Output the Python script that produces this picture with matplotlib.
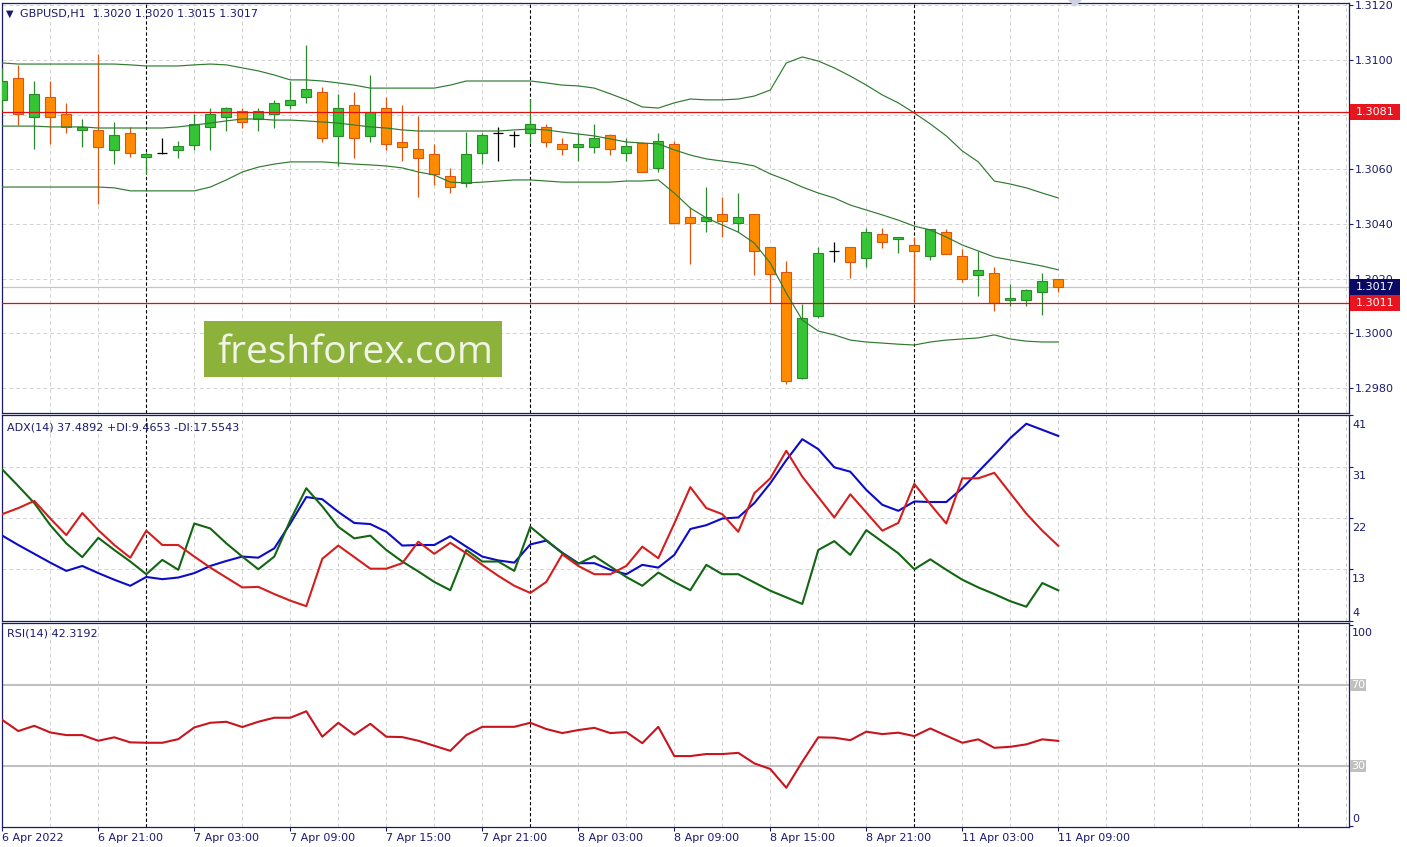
import numpy as np
import matplotlib
matplotlib.use('Agg')
import matplotlib.pyplot as plt
from matplotlib.patches import Rectangle, Polygon
from matplotlib.transforms import blended_transform_factory

W, H = 1407, 847

# ---------------- data ----------------
title = 'GBPUSD,H1  1.3020 1.3020 1.3015 1.3017'
adx_title = 'ADX(14) 37.4892 +DI:9.4653 -DI:17.5543'
rsi_title = 'RSI(14) 42.3192'

time_labels = ['6 Apr 2022', '6 Apr 21:00', '7 Apr 03:00', '7 Apr 09:00', '7 Apr 15:00',
               '7 Apr 21:00', '8 Apr 03:00', '8 Apr 09:00', '8 Apr 15:00', '8 Apr 21:00',
               '11 Apr 03:00', '11 Apr 09:00']
time_label_bars = [0, 6, 12, 18, 24, 30, 36, 42, 48, 54, 60, 66]
separator_bars = [9, 33, 57, 81]

opens = [1.30854, 1.30933, 1.30792, 1.30863, 1.30801, 1.30743, 1.30743, 1.30672, 1.30732, 1.30644,
         1.30658, 1.30672, 1.30690, 1.30754, 1.30792, 1.30813, 1.30784, 1.30801, 1.30834, 1.30863,
         1.30882, 1.30723, 1.30835, 1.30723, 1.30823, 1.30701, 1.30673, 1.30655, 1.30575, 1.30549,
         1.30661, 1.30732, 1.30725, 1.30732, 1.30754, 1.30691, 1.30683, 1.30683, 1.30725, 1.30661,
         1.30695, 1.30604, 1.30693, 1.30424, 1.30412, 1.30435, 1.30402, 1.30435, 1.30315, 1.30223,
         1.29835, 1.30064, 1.30301, 1.30315, 1.30274, 1.30362, 1.30344, 1.30323, 1.30281, 1.30372,
         1.30283, 1.30212, 1.30219, 1.30120, 1.30120, 1.30151, 1.30200]
highs = [1.30971, 1.30982, 1.30923, 1.30923, 1.30843, 1.30784, 1.31022, 1.30772, 1.30754, 1.30664,
         1.30716, 1.30703, 1.30801, 1.30824, 1.30827, 1.30825, 1.30825, 1.30854, 1.30924, 1.31055,
         1.30902, 1.30874, 1.30882, 1.30945, 1.30863, 1.30835, 1.30795, 1.30693, 1.30603, 1.30735,
         1.30734, 1.30756, 1.30740, 1.30856, 1.30765, 1.30713, 1.30732, 1.30765, 1.30729, 1.30713,
         1.30698, 1.30734, 1.30703, 1.30463, 1.30536, 1.30499, 1.30514, 1.30436, 1.30316, 1.30264,
         1.30106, 1.30315, 1.30333, 1.30316, 1.30384, 1.30384, 1.30354, 1.30351, 1.30383, 1.30382,
         1.30310, 1.30302, 1.30241, 1.30179, 1.30162, 1.30219, 1.30200]
lows = [1.30817, 1.30762, 1.30674, 1.30693, 1.30733, 1.30682, 1.30473, 1.30619, 1.30644, 1.30582,
        1.30656, 1.30642, 1.30672, 1.30672, 1.30741, 1.30752, 1.30741, 1.30752, 1.30822, 1.30841,
        1.30701, 1.30613, 1.30642, 1.30701, 1.30671, 1.30630, 1.30500, 1.30542, 1.30512, 1.30536,
        1.30619, 1.30630, 1.30683, 1.30695, 1.30683, 1.30652, 1.30630, 1.30661, 1.30652, 1.30630,
        1.30590, 1.30591, 1.30400, 1.30252, 1.30372, 1.30353, 1.30372, 1.30213, 1.30112, 1.29813,
        1.29834, 1.30055, 1.30262, 1.30203, 1.30244, 1.30313, 1.30293, 1.30117, 1.30269, 1.30289,
        1.30188, 1.30138, 1.30080, 1.30101, 1.30101, 1.30068, 1.30150]
closes = [1.30923, 1.30801, 1.30874, 1.30792, 1.30754, 1.30756, 1.30683, 1.30724, 1.30661, 1.30656,
          1.30658, 1.30685, 1.30766, 1.30801, 1.30824, 1.30772, 1.30813, 1.30841, 1.30854, 1.30894,
          1.30713, 1.30823, 1.30713, 1.30811, 1.30691, 1.30683, 1.30642, 1.30583, 1.30534, 1.30655,
          1.30725, 1.30732, 1.30725, 1.30765, 1.30701, 1.30673, 1.30691, 1.30713, 1.30673, 1.30685,
          1.30591, 1.30704, 1.30402, 1.30402, 1.30424, 1.30412, 1.30424, 1.30302, 1.30216, 1.29825,
          1.30055, 1.30293, 1.30301, 1.30262, 1.30372, 1.30333, 1.30353, 1.30300, 1.30382, 1.30290,
          1.30200, 1.30231, 1.30109, 1.30130, 1.30160, 1.30191, 1.30170]

bb_upper = [1.30989, 1.30985, 1.30985, 1.30985, 1.30985, 1.30985, 1.30985, 1.30985, 1.30982, 1.30978,
            1.30978, 1.30978, 1.30982, 1.30985, 1.30982, 1.30971, 1.30960, 1.30945, 1.30927, 1.30927,
            1.30923, 1.30916, 1.30908, 1.30897, 1.30897, 1.30897, 1.30897, 1.30897, 1.30908, 1.30923,
            1.30923, 1.30923, 1.30923, 1.30923, 1.30916, 1.30908, 1.30905, 1.30897, 1.30876, 1.30854,
            1.30828, 1.30824, 1.30843, 1.30857, 1.30854, 1.30854, 1.30857, 1.30868, 1.30890, 1.30989,
            1.31011, 1.30996, 1.30971, 1.30941, 1.30908, 1.30872, 1.30843, 1.30806, 1.30766, 1.30722,
            1.30667, 1.30627, 1.30557, 1.30546, 1.30532, 1.30513, 1.30495]
bb_middle = [1.30758, 1.30758, 1.30758, 1.30755, 1.30755, 1.30755, 1.30751, 1.30751, 1.30751, 1.30751,
             1.30751, 1.30755, 1.30762, 1.30769, 1.30777, 1.30784, 1.30784, 1.30780, 1.30780, 1.30777,
             1.30773, 1.30769, 1.30762, 1.30755, 1.30751, 1.30744, 1.30740, 1.30740, 1.30740, 1.30740,
             1.30740, 1.30740, 1.30744, 1.30747, 1.30744, 1.30736, 1.30729, 1.30722, 1.30711, 1.30700,
             1.30696, 1.30693, 1.30671, 1.30652, 1.30638, 1.30630, 1.30623, 1.30612, 1.30583, 1.30561,
             1.30535, 1.30513, 1.30495, 1.30469, 1.30451, 1.30433, 1.30414, 1.30392, 1.30378, 1.30352,
             1.30323, 1.30301, 1.30279, 1.30268, 1.30257, 1.30246, 1.30232]
bb_lower = [1.30535, 1.30535, 1.30535, 1.30535, 1.30535, 1.30535, 1.30535, 1.30532, 1.30521, 1.30521,
            1.30521, 1.30521, 1.30521, 1.30535, 1.30561, 1.30590, 1.30608, 1.30619, 1.30627, 1.30627,
            1.30627, 1.30623, 1.30619, 1.30616, 1.30612, 1.30605, 1.30590, 1.30579, 1.30553, 1.30550,
            1.30553, 1.30557, 1.30561, 1.30561, 1.30557, 1.30553, 1.30553, 1.30553, 1.30553, 1.30557,
            1.30557, 1.30561, 1.30513, 1.30458, 1.30422, 1.30396, 1.30370, 1.30330, 1.30257, 1.30147,
            1.30048, 1.30008, 1.29994, 1.29975, 1.29968, 1.29964, 1.29960, 1.29957, 1.29968, 1.29975,
            1.29979, 1.29983, 1.29994, 1.29979, 1.29971, 1.29968, 1.29968]

adx_main = [19.4, 17.7, 16.1, 14.5, 13.0, 13.9, 12.6, 11.4, 10.3, 11.9,
            11.5, 11.8, 12.6, 13.9, 14.8, 15.6, 15.4, 17.1, 21.6, 26.4,
            26.0, 23.7, 21.7, 21.5, 20.1, 17.6, 17.7, 17.7, 19.3, 17.4,
            15.6, 14.9, 14.5, 17.8, 18.5, 16.3, 14.4, 14.4, 13.2, 12.4,
            14.1, 13.6, 15.9, 20.6, 21.3, 22.5, 22.7, 25.3, 28.9, 33.1,
            36.9, 35.1, 31.8, 31.0, 27.7, 25.0, 23.9, 25.6, 25.5, 25.5,
            28.0, 31.0, 34.0, 37.1, 39.7, 38.6, 37.49]
adx_plus_di = [31.4, 28.4, 25.3, 21.3, 18.0, 15.5, 19.0, 16.8, 14.7, 12.4,
               15.0, 13.2, 21.6, 20.7, 18.0, 15.6, 13.3, 15.6, 22.2, 28.0,
               24.7, 21.0, 18.9, 19.4, 16.8, 14.7, 12.9, 11.0, 9.5, 16.8,
               14.7, 14.7, 13.0, 21.0, 18.6, 16.2, 14.3, 15.7, 13.8, 11.9,
               10.3, 12.7, 11.0, 9.5, 14.1, 12.4, 12.4, 10.9, 9.4, 8.2,
               7.0, 16.8, 18.4, 15.9, 20.4, 18.3, 16.2, 13.3, 15.1, 13.2,
               11.4, 10.0, 8.8, 7.5, 6.5, 10.8, 9.47]
adx_minus_di = [23.3, 24.4, 25.7, 22.5, 19.5, 23.5, 20.4, 17.7, 15.4, 20.3,
                17.7, 17.7, 15.6, 13.6, 11.8, 10.0, 10.1, 8.8, 7.6, 6.6,
                15.2, 17.6, 15.5, 13.4, 13.4, 14.4, 18.3, 16.1, 18.1, 16.2,
                14.1, 12.1, 10.3, 9.0, 11.0, 16.0, 13.9, 12.4, 12.4, 13.9,
                17.4, 15.3, 21.6, 28.2, 24.4, 23.3, 20.1, 27.1, 29.8, 34.8,
                30.1, 26.4, 22.7, 26.9, 23.6, 20.3, 21.7, 28.8, 25.1, 21.6,
                29.8, 29.8, 30.8, 27.1, 23.4, 20.3, 17.55]
rsi = [52.7, 47.2, 49.8, 46.5, 45.2, 45.2, 42.4, 44.1, 41.6, 41.4,
       41.4, 43.2, 49.0, 51.3, 51.8, 49.2, 51.8, 53.8, 53.8, 57.0,
       44.4, 51.3, 45.4, 50.8, 44.4, 44.2, 42.4, 39.9, 37.4, 45.2,
       49.3, 49.3, 49.3, 51.3, 48.2, 46.2, 47.7, 48.8, 46.2, 46.7,
       41.2, 49.3, 34.8, 34.8, 35.8, 35.8, 36.4, 31.2, 28.4, 19.1,
       32.0, 44.1, 43.9, 42.7, 46.9, 45.7, 46.4, 44.7, 48.5, 44.9,
       41.4, 43.1, 38.9, 39.4, 40.6, 43.1, 42.32]

price_ticks = [1.2980, 1.3000, 1.3020, 1.3040, 1.3060, 1.3080, 1.3100, 1.3120]
price_tick_labels = ['1.2980', '1.3000', '1.3020', '1.3040', '1.3060', '', '1.3100', '1.3120']
price_range = (1.297082, 1.312084)
adx_range = (4.0, 41.2)
adx_tick_labels = ['4', '13', '22', '31', '41']
rsi_range = (-0.1, 101.0)
rsi_levels = [30, 70]
red_levels = [1.3081, 1.3011]
bid_price = 1.3017

# ---------------- style ----------------
navy = '#1a1a6e'
grid_col = '#d2d2d2'
bull_fill, bull_edge = '#35c435', '#2b8a2b'
bear_fill, bear_edge = '#ff8c00', '#dc5512'
bb_col = '#2f7a2f'

fig = plt.figure(figsize=(W / 100, H / 100), dpi=100)
fig.patch.set_facecolor('white')


def rect(l, t, r, b):
    return [l / W, 1 - b / H, (r - l) / W, (b - t) / H]


AXL, AXR = 1.5, 1349.0
ax_p = fig.add_axes(rect(AXL, 3, AXR, 413))
ax_a = fig.add_axes(rect(AXL, 415.5, AXR, 620.5))
ax_r = fig.add_axes(rect(AXL, 622.5, AXR, 826.5))
axes = [ax_p, ax_a, ax_r]

n = len(opens)
bars = np.arange(n)
xlim = ((AXL - 2.3) / 16.0, (AXR - 2.3) / 16.0)
grid_bars = [b for b in range(0, 85, 3) if b not in separator_bars]

for ax in axes:
    ax.set_xlim(*xlim)
    ax.set_facecolor('white')
    for s in ax.spines.values():
        s.set_color(navy)
        s.set_linewidth(0.9)
    ax.tick_params(axis='x', bottom=False, labelbottom=False)
    for b in grid_bars:
        ax.axvline(b, color=grid_col, lw=0.7, ls=(0, (4, 3)), zorder=0)
    for b in separator_bars:
        ax.axvline(b, color='black', lw=0.8, ls=(0, (3, 2)), zorder=1)

# ---------------- price panel ----------------
ax_p.set_ylim(*price_range)
for p in price_ticks:
    ax_p.axhline(p, color=grid_col, lw=0.7, ls=(0, (4, 3)), zorder=0)
ax_p.axhline(bid_price, color='#c4c4c4', lw=0.9, zorder=1)

body_w = 0.62
for i in bars:
    o, h, l, c = opens[i], highs[i], lows[i], closes[i]
    if c > o:
        fc, ec = bull_fill, bull_edge
    elif c < o:
        fc, ec = bear_fill, bear_edge
    else:
        fc, ec = None, 'black'
    ax_p.vlines(i, l, h, color=ec, lw=0.9, zorder=3)
    if fc is None:
        ax_p.hlines(c, i - body_w / 2, i + body_w / 2, color='black', lw=0.9, zorder=4)
    else:
        ax_p.add_patch(Rectangle((i - body_w / 2, min(o, c)), body_w, abs(c - o),
                                 facecolor=fc, edgecolor=ec, lw=0.8, zorder=4))

for band in (bb_upper, bb_middle, bb_lower):
    ax_p.plot(bars, band, color=bb_col, lw=0.85, zorder=5)

for lv in red_levels:
    ax_p.axhline(lv, color='#e01010', lw=0.9, zorder=5)

ax_p.yaxis.tick_right()
ax_p.set_yticks(price_ticks)
ax_p.set_yticklabels(price_tick_labels)
ax_p.tick_params(axis='y', length=3, width=0.8, color=navy, labelcolor=navy,
                 labelsize=8, pad=1.5)

# price label boxes
px_per_price = 410.0 / (price_range[1] - price_range[0])
tr_p = blended_transform_factory(ax_p.transAxes, ax_p.transData)
axw = AXR - AXL
for val, col in [(1.3081, '#e8141e'), (bid_price, '#0a0a64'), (1.3011, '#e8141e')]:
    hh = 16.0 / px_per_price
    ax_p.add_patch(Rectangle(((1349.5 - AXL) / axw, val - hh / 2), 50.0 / axw, hh,
                             transform=tr_p, facecolor=col, edgecolor='none',
                             clip_on=False, zorder=10))
    ax_p.text((1355.5 - AXL) / axw, val, '%.4f' % val, transform=tr_p, color='white',
              fontsize=8, va='center', ha='left', clip_on=False, zorder=11)

# ---------------- ADX panel ----------------
ax_a.set_ylim(*adx_range)
adx_ticks = np.linspace(adx_range[0], adx_range[1], 5)
for v in adx_ticks[1:-1]:
    ax_a.axhline(v, color=grid_col, lw=0.7, ls=(0, (4, 3)), zorder=0)
ax_a.plot(bars, adx_main, color='#0c0cc8', lw=1.5, zorder=3)
ax_a.plot(bars, adx_plus_di, color='#126612', lw=1.5, zorder=3)
ax_a.plot(bars, adx_minus_di, color='#d41e1e', lw=1.5, zorder=3)
ax_a.yaxis.tick_right()
ax_a.set_yticks(adx_ticks)
ax_a.set_yticklabels([''] * 5)
ax_a.tick_params(axis='y', length=3, width=0.8, color=navy)
tr_a = blended_transform_factory(ax_a.transAxes, ax_a.transData)
for k, (v, lab) in enumerate(zip(adx_ticks, adx_tick_labels)):
    dy = 5.4 if k == 0 else -7.0
    ax_a.annotate(lab, xy=((1352 - AXL) / axw, v), xycoords=tr_a, xytext=(0, dy),
                  textcoords='offset points', color=navy, fontsize=8,
                  va='center', ha='left', annotation_clip=False)

# ---------------- RSI panel ----------------
ax_r.set_ylim(*rsi_range)
for lv in rsi_levels:
    ax_r.axhline(lv, color='#c0c0c0', lw=1.5, zorder=1)
ax_r.plot(bars, rsi, color='#c8141e', lw=1.5, zorder=3)
ax_r.yaxis.tick_right()
ax_r.set_yticks([0, 100])
ax_r.set_yticklabels(['', ''])
ax_r.tick_params(axis='y', length=3, width=0.8, color=navy)
tr_r = blended_transform_factory(ax_r.transAxes, ax_r.transData)
for v, lab, dy in [(100, '100', -5.8), (0, '0', 5.0)]:
    ax_r.annotate(lab, xy=((1352 - AXL) / axw, v), xycoords=tr_r, xytext=(0, dy),
                  textcoords='offset points', color=navy, fontsize=8,
                  va='center', ha='left', annotation_clip=False)
rsi_px = 204.0 / (rsi_range[1] - rsi_range[0])
for lv in rsi_levels:
    hh = 12.0 / rsi_px
    ax_r.add_patch(Rectangle(((1350 - AXL) / axw, lv - hh / 2), 16.0 / axw, hh,
                             transform=tr_r, facecolor='#c0c0c0', edgecolor='none',
                             clip_on=False, zorder=10))
    ax_r.text((1351 - AXL) / axw, lv, str(lv), transform=tr_r, color='white',
              fontsize=8, va='center', ha='left', clip_on=False, zorder=11)

# time axis
ax_r.set_xticks(time_label_bars)
ax_r.set_xticklabels(time_labels, ha='left')
ax_r.tick_params(axis='x', bottom=True, labelbottom=True, length=3, width=0.8,
                 color=navy, labelcolor=navy, labelsize=8, pad=1.5)

# ---------------- titles & decorations ----------------
def ftext(x, y, s, **kw):
    fig.text(x / W, 1 - y / H, s, **kw)

ftext(5.5, 13.5, '\u25BC', fontsize=7, color=navy, va='center', ha='left')
ftext(20, 14, title, fontsize=8, color=navy, va='center', ha='left')
ftext(7, 427, adx_title, fontsize=8, color=navy, va='center', ha='left')
ftext(7, 633, rsi_title, fontsize=8, color=navy, va='center', ha='left')

# chart shift marker
fig.patches.append(Polygon([[1068 / W, 1 - 0 / H], [1082 / W, 1 - 0 / H], [1075 / W, 1 - 7 / H]],
                           closed=True, transform=fig.transFigure, facecolor='#cfd0e4',
                           edgecolor='none', zorder=5))

# watermark
fig.patches.append(Rectangle((204 / W, 1 - 377.5 / H), (502.5 - 204) / W, (377.5 - 321) / H,
                             transform=fig.transFigure, facecolor='#8cb23c',
                             edgecolor='none', zorder=5))
ftext(217, 362.5, 'freshforex.com', fontsize=28, family=['Open Sans', 'DejaVu Sans'],
      color='#f1f5e6', va='baseline', ha='left', zorder=6)

fig.savefig('out.png', dpi=100, facecolor='white')
